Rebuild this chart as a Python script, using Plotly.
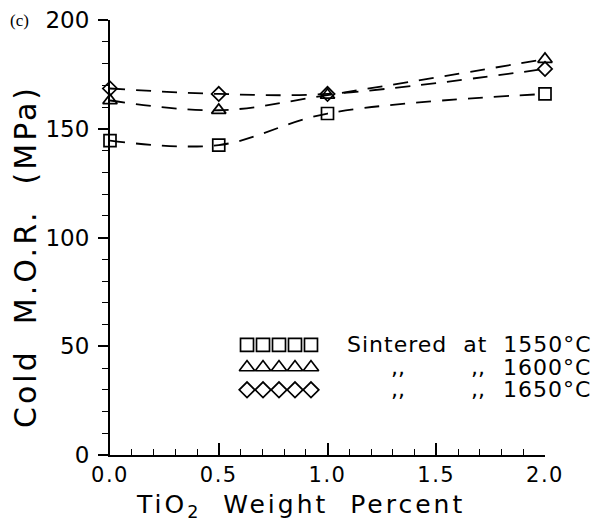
import plotly.graph_objects as go

# ---- data ----
tio2_pct = [0.0, 0.5, 1.0, 2.0]
mor_1550 = [144.5, 142.5, 157, 166]
mor_1600 = [163, 158.5, 165.5, 182]
mor_1650 = [168.5, 166, 166, 177.5]

series_values = [mor_1550, mor_1600, mor_1650]
series_symbols = ["square-open", "triangle-up-open", "diamond-open"]
series_sizes = [12, 12.5, 11]
temps = ["1550°C", "1600°C", "1650°C"]

x_ticks = [0.0, 0.5, 1.0, 1.5, 2.0]
x_ticklabels = ["0.0", "0.5", "1.0", "1.5", "2.0"]
y_ticks = [0, 50, 100, 150, 200]

FONT = "DejaVu Sans"


def spaced(txt, px):
    return f'<span style="letter-spacing:{px}px">{txt}</span>'


fig = go.Figure()

for vals, sym, sz, t in zip(series_values, series_symbols, series_sizes, temps):
    fig.add_trace(go.Scatter(
        x=tio2_pct, y=vals, mode="lines+markers", name=t,
        line=dict(color="black", width=1.8, dash="15px,11px", shape="spline", smoothing=1.0),
        marker=dict(symbol=sym, size=sz, color="black", line=dict(width=1.7, color="black")),
        cliponaxis=False, showlegend=False,
    ))

# legend sample markers (5 per row) on a hidden overlay axis
for row, (sym, sz) in enumerate(zip(series_symbols, series_sizes)):
    fig.add_trace(go.Scatter(
        x=list(range(5)), y=[row] * 5, mode="markers",
        marker=dict(symbol=sym, size=sz + 1, color="black", line=dict(width=1.7, color="black")),
        xaxis="x2", yaxis="y2", showlegend=False, hoverinfo="skip", cliponaxis=False,
    ))

# legend texts
row_y = [0.253, 0.2015, 0.150]
LF = dict(family=FONT, size=22, color="black")
fig.add_annotation(x=0.541, y=row_y[0], xref="paper", yref="paper",
                   text=spaced("Sintered\u00a0 at\u00a0 " + temps[0], 1.0),
                   showarrow=False, xanchor="left", yanchor="middle", font=LF)
for r in (1, 2):
    fig.add_annotation(x=0.662, y=row_y[r], xref="paper", yref="paper", text=",,",
                       showarrow=False, xanchor="center", yanchor="middle", font=LF)
    fig.add_annotation(x=0.846, y=row_y[r], xref="paper", yref="paper", text=",,",
                       showarrow=False, xanchor="center", yanchor="middle", font=LF)
    fig.add_annotation(x=1.110, y=row_y[r], xref="paper", yref="paper", text=spaced(temps[r], 1.0),
                       showarrow=False, xanchor="right", yanchor="middle", font=LF)

# axis titles and panel label
fig.add_annotation(x=-0.196, y=0.457, xref="paper", yref="paper",
                   text=spaced("Cold\u00a0 M.O.R.\u00a0 (MPa)", 3.0),
                   textangle=-90, showarrow=False, xanchor="center", yanchor="middle",
                   font=dict(family=FONT, size=30, color="black"))
fig.add_annotation(x=0.437, y=-0.118, xref="paper", yref="paper",
                   text=spaced("TiO<sub>2</sub>\u00a0 Weight\u00a0 Percent", 3.0),
                   showarrow=False, xanchor="center", yanchor="middle",
                   font=dict(family=FONT, size=25, color="black"))
fig.add_annotation(x=-0.209, y=1.0, xref="paper", yref="paper", text="(c)",
                   showarrow=False, xanchor="center", yanchor="middle",
                   font=dict(family="Liberation Serif", size=17, color="black"))

fig.update_layout(
    width=596, height=518,
    margin=dict(l=102, r=59, t=12, b=71, autoexpand=False),
    paper_bgcolor="white", plot_bgcolor="white",
    font=dict(family=FONT, color="black"),
    xaxis=dict(
        range=[0, 2.0], tickvals=x_ticks, ticktext=[spaced(s, 1.5) for s in x_ticklabels],
        ticks="inside", ticklen=12, tickwidth=1.6, tickcolor="black",
        minor=dict(dtick=0.1, ticks="inside", ticklen=6, tickwidth=1.4, tickcolor="black"),
        showline=True, linecolor="black", linewidth=1.8, showgrid=False, zeroline=False,
        tickfont=dict(family=FONT, size=21, color="black"), ticklabeloverflow="allow",
        automargin=False,
    ),
    yaxis=dict(
        range=[0, 200], tickvals=y_ticks,
        ticks="outside", ticklen=10, tickwidth=1.6, tickcolor="black",
        minor=dict(dtick=10, ticks="outside", ticklen=6, tickwidth=1.4, tickcolor="black"),
        showline=True, linecolor="black", linewidth=2.0, showgrid=False, zeroline=False,
        tickfont=dict(family=FONT, size=23, color="black"), ticklabeloverflow="allow",
        ticklabelstandoff=4, automargin=False,
    ),
    xaxis2=dict(domain=[0.2966, 0.4804], range=[-0.5, 4.5], visible=False, anchor="y2", automargin=False),
    yaxis2=dict(domain=[0.124, 0.279], range=[2.5, -0.5], visible=False, anchor="x2", automargin=False),
)

fig.write_html("out.html")
